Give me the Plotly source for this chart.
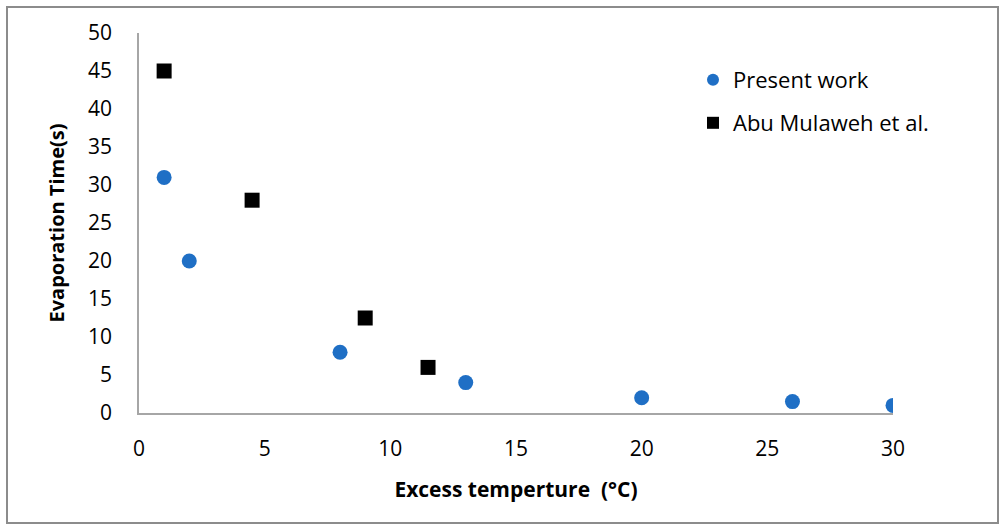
import plotly.graph_objects as go

# Evaporation time versus excess wall temperature
present_x = [1, 2, 8, 13, 20, 26, 30]
present_y = [31, 20, 8, 4, 2, 1.5, 1]

abu_x = [1, 4.5, 9, 11.5]
abu_y = [45, 28, 12.5, 6]

x_ticks = [0, 5, 10, 15, 20, 25, 30]
y_ticks = [0, 5, 10, 15, 20, 25, 30, 35, 40, 45, 50]

FONT = "Open Sans"
W, H = 999, 524
L, R, T, B = 139, 106, 33, 111
pw, ph = W - L - R, H - T - B

fig = go.Figure()
fig.add_trace(go.Scatter(
    x=present_x, y=present_y, mode="markers", name="Present work",
    marker=dict(symbol="circle", size=15, color="#1F6FC5",
                line=dict(width=0)),
    legend="legend",
))
fig.add_trace(go.Scatter(
    x=abu_x, y=abu_y, mode="markers", name="Abu Mulaweh et al.",
    marker=dict(symbol="square", size=15, color="#000000",
                line=dict(width=0)),
    legend="legend2",
))

axis_common = dict(
    showgrid=False, zeroline=False, showline=True,
    linecolor="#A6A6A6", linewidth=1.5, ticks="",
    tickfont=dict(family=FONT, size=21, color="#000000"),
    fixedrange=True,
)

fig.update_xaxes(
    range=[0, 30], tickvals=x_ticks, ticklabelstandoff=16,
    title=dict(text="<b>Excess temperture  (°C)</b>",
               font=dict(family=FONT, size=21, color="#000000"), standoff=21),
    **axis_common,
)
fig.update_yaxes(
    range=[0, 50], tickvals=y_ticks, ticklabelstandoff=21,
    title=dict(text="<b>Evaporation Time(s)</b>",
               font=dict(family=FONT, size=20, color="#000000"), standoff=18),
    **axis_common,
)

def px_to_paper(px, py):
    return (px - L) / pw, (H - B - py) / ph

lx1, ly1 = px_to_paper(693, 80)
lx2, ly2 = px_to_paper(693, 123)
legend_style = dict(font=dict(family=FONT, size=22, color="#000000"),
                    bgcolor="rgba(0,0,0,0)", xanchor="left", yanchor="middle",
                    itemsizing="constant", itemwidth=30)

# outer chart border
bx0, by0 = px_to_paper(7, 7)
bx1, by1 = px_to_paper(998, 523)

fig.update_layout(
    width=W, height=H,
    margin=dict(l=L, r=R, t=T, b=B),
    paper_bgcolor="white", plot_bgcolor="white",
    showlegend=True,
    legend=dict(x=lx1, y=ly1, **legend_style),
    legend2=dict(x=lx2, y=ly2, **legend_style),
    shapes=[dict(type="rect", xref="paper", yref="paper",
                 x0=bx0, y0=by1, x1=bx1, y1=by0,
                 line=dict(color="#8C8C8C", width=2), layer="below")],
)

fig.write_html("out.html")
